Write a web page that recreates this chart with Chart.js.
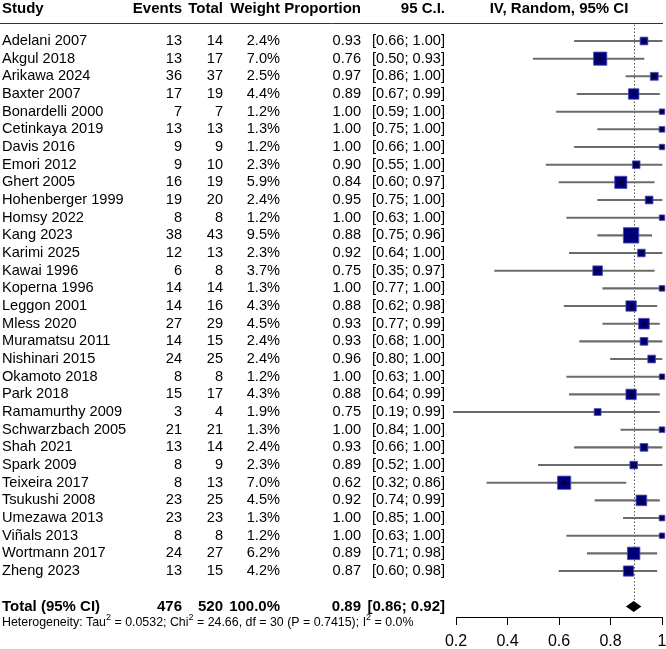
<!DOCTYPE html>
<html>
<head>
<meta charset="utf-8">
<script src="https://cdn.jsdelivr.net/npm/chart.js@4"></script>
<style>
  html, body { margin: 0; padding: 0; background: #fff; }
  #wrap { width: 666px; height: 649px; position: relative; }
</style>
</head>
<body>
<div id="wrap"><canvas id="forest"></canvas></div>
<script>
// study level data
const studies = ['Adelani 2007', 'Akgul 2018', 'Arikawa 2024', 'Baxter 2007', 'Bonardelli 2000',
  'Cetinkaya 2019', 'Davis 2016', 'Emori 2012', 'Ghert 2005', 'Hohenberger 1999', 'Homsy 2022',
  'Kang 2023', 'Karimi 2025', 'Kawai 1996', 'Koperna 1996', 'Leggon 2001', 'Mless 2020',
  'Muramatsu 2011', 'Nishinari 2015', 'Okamoto 2018', 'Park 2018', 'Ramamurthy 2009',
  'Schwarzbach 2005', 'Shah 2021', 'Spark 2009', 'Teixeira 2017', 'Tsukushi 2008',
  'Umezawa 2013', 'Viñals 2013', 'Wortmann 2017', 'Zheng 2023'];
const events = [13, 13, 36, 17, 7, 13, 9, 9, 16, 19, 8, 38, 12, 6, 14, 14, 27, 14, 24, 8, 15, 3, 21, 13, 8, 8, 23, 23, 8, 24, 13];
const totals = [14, 17, 37, 19, 7, 13, 9, 10, 19, 20, 8, 43, 13, 8, 14, 16, 29, 15, 25, 8, 17, 4, 21, 14, 9, 13, 25, 23, 8, 27, 15];
const weights = [2.4, 7.0, 2.5, 4.4, 1.2, 1.3, 1.2, 2.3, 5.9, 2.4, 1.2, 9.5, 2.3, 3.7, 1.3, 4.3, 4.5, 2.4, 2.4, 1.2, 4.3, 1.9, 1.3, 2.4, 2.3, 7.0, 4.5, 1.3, 1.2, 6.2, 4.2];
const props = [0.93, 0.76, 0.97, 0.89, 1.00, 1.00, 1.00, 0.90, 0.84, 0.95, 1.00, 0.88, 0.92, 0.75, 1.00, 0.88, 0.93, 0.93, 0.96, 1.00, 0.88, 0.75, 1.00, 0.93, 0.89, 0.62, 0.92, 1.00, 1.00, 0.89, 0.87];
const ciLow = [0.66, 0.50, 0.86, 0.67, 0.59, 0.75, 0.66, 0.55, 0.60, 0.75, 0.63, 0.75, 0.64, 0.35, 0.77, 0.62, 0.77, 0.68, 0.80, 0.63, 0.64, 0.19, 0.84, 0.66, 0.52, 0.32, 0.74, 0.85, 0.63, 0.71, 0.60];
const ciHigh = [1.00, 0.93, 1.00, 0.99, 1.00, 1.00, 1.00, 1.00, 0.97, 1.00, 1.00, 0.96, 1.00, 0.97, 1.00, 0.98, 0.99, 1.00, 1.00, 1.00, 0.99, 0.99, 1.00, 1.00, 1.00, 0.86, 0.99, 1.00, 1.00, 0.98, 0.98];

// pooled result
const totalEvents = 476;
const totalN = 520;
const pooled = [0.86, 0.89, 0.92]; // low, estimate, high
const hetParts = [['Heterogeneity: Tau', 0], ['2', 1], [' = 0.0532; Chi', 0], ['2', 1],
  [' = 24.66, df = 30 (P = 0.7415); I', 0], ['2', 1], [' = 0.0%', 0]];

const axisMin = 0.2, axisMax = 1, axisStep = 0.2;
const totalRow = studies.length + 1;

const FONT = '"Liberation Sans", Arial, sans-serif';
const cols = { events: 182, total: 223, weight: 280, prop: 361, ci: 445 };
const fmt = v => v.toFixed(2);

const tablePlugin = {
  id: 'table',
  beforeDatasetsDraw(chart) {
    const ctx = chart.ctx, y = chart.scales.y, x = chart.scales.x;
    ctx.save();
    // header rule
    const ry = Math.round(y.getPixelForValue(-1)) + 0.5;
    ctx.strokeStyle = '#333';
    ctx.lineWidth = 1;
    ctx.beginPath();
    ctx.moveTo(0, ry);
    ctx.lineTo(x.right + 1, ry);
    ctx.stroke();
    // pooled reference line
    const px = Math.round(x.getPixelForValue(pooled[1])) + 0.5;
    ctx.setLineDash([1.5, 2]);
    ctx.strokeStyle = '#555';
    ctx.beginPath();
    ctx.moveTo(px, ry + 1);
    ctx.lineTo(px, y.getPixelForValue(totalRow) - 5);
    ctx.stroke();
    ctx.restore();
  },
  afterDatasetsDraw(chart) {
    const ctx = chart.ctx, y = chart.scales.y, x = chart.scales.x;
    ctx.save();
    ctx.fillStyle = '#000';
    ctx.textBaseline = 'middle';
    const txt = (s, px, py, align) => { ctx.textAlign = align; ctx.fillText(s, px, py); };

    // header
    ctx.font = 'bold 15px ' + FONT;
    const hy = y.getPixelForValue(-1.8);
    txt('Study', 2, hy, 'left');
    txt('Events', cols.events, hy, 'right');
    txt('Total', cols.total, hy, 'right');
    txt('Weight', cols.weight, hy, 'right');
    txt('Proportion', cols.prop, hy, 'right');
    txt('95 C.I.', cols.ci, hy, 'right');
    txt('IV, Random, 95% CI', (x.left + x.right) / 2, hy, 'center');

    // rows
    ctx.font = '14.6px ' + FONT;
    studies.forEach((s, i) => {
      const ry = y.getPixelForValue(i);
      txt(s, 2, ry, 'left');
      txt(String(events[i]), cols.events, ry, 'right');
      txt(String(totals[i]), cols.total, ry, 'right');
      txt(weights[i].toFixed(1) + '%', cols.weight, ry, 'right');
      txt(fmt(props[i]), cols.prop, ry, 'right');
      txt('[' + fmt(ciLow[i]) + '; ' + fmt(ciHigh[i]) + ']', cols.ci, ry, 'right');
    });

    // total row
    ctx.font = 'bold 15px ' + FONT;
    const ty = y.getPixelForValue(totalRow);
    txt('Total (95% CI)', 2, ty, 'left');
    txt(String(totalEvents), cols.events, ty, 'right');
    txt(String(totalN), cols.total, ty, 'right');
    txt('100.0%', cols.weight, ty, 'right');
    txt(fmt(pooled[1]), cols.prop, ty, 'right');
    txt('[' + fmt(pooled[0]) + '; ' + fmt(pooled[2]) + ']', cols.ci, ty, 'right');

    // pooled diamond
    ctx.beginPath();
    ctx.moveTo(x.getPixelForValue(pooled[0]), ty);
    ctx.lineTo(x.getPixelForValue(pooled[1]), ty - 5.5);
    ctx.lineTo(x.getPixelForValue(pooled[2]), ty);
    ctx.lineTo(x.getPixelForValue(pooled[1]), ty + 5.5);
    ctx.closePath();
    ctx.fill();

    // heterogeneity line with superscripts
    const hety = y.getPixelForValue(totalRow + 0.92);
    let cx = 2;
    ctx.textAlign = 'left';
    hetParts.forEach(([s, sup]) => {
      ctx.font = (sup ? '9px ' : '12.4px ') + FONT;
      ctx.fillText(s, cx, sup ? hety - 5 : hety);
      cx += ctx.measureText(s).width;
    });
    ctx.restore();
  }
};

new Chart(document.getElementById('forest'), {
  type: 'scatter',
  data: {
    datasets: [
      {
        type: 'bar',
        indexAxis: 'y',
        data: studies.map((s, i) => ({ y: i, x: [ciLow[i], ciHigh[i]] })),
        backgroundColor: '#6b6b6b',
        borderWidth: 0,
        barThickness: 1.4,
        grouped: false,
        clip: false,
        order: 3
      },
      {
        data: studies.map((s, i) => ({ x: props[i], y: i })),
        pointStyle: 'rect',
        pointRadius: weights.map(w => 5 * Math.sqrt(w) / Math.SQRT2),
        pointHoverRadius: weights.map(w => 5 * Math.sqrt(w) / Math.SQRT2),
        backgroundColor: '#00007f',
        borderColor: '#4b4bb0',
        borderWidth: 0.8,
        clip: false,
        order: 2
      },
      {
        data: studies.map((s, i) => ({ x: props[i], y: i })),
        pointStyle: 'cross',
        pointRadius: 2.2,
        borderColor: '#000',
        borderWidth: 1,
        clip: false,
        order: 1
      }
    ]
  },
  options: {
    responsive: true,
    maintainAspectRatio: false,
    animation: false,
    events: [],
    layout: { autoPadding: false, padding: { left: 456, right: 4, top: 0, bottom: 0 } },
    plugins: { legend: { display: false }, tooltip: { enabled: false } },
    scales: {
      x: {
        type: 'linear',
        min: axisMin,
        max: axisMax,
        offset: false,
        afterFit: s => { s.height = 32; s.paddingLeft = 0; s.paddingRight = 0; },
        ticks: {
          stepSize: axisStep,
          color: '#000',
          padding: 7,
          font: { size: 16, family: FONT },
          maxRotation: 0,
          callback: v => String(+v.toFixed(1))
        },
        grid: { offset: false, drawOnChartArea: false, drawTicks: true, tickLength: 8, color: '#000' },
        border: { display: true, color: '#000', width: 1 }
      },
      y: {
        type: 'linear',
        display: false,
        reverse: true,
        offset: false,
        grid: { offset: false },
        min: -2.32,
        max: 32.6
      }
    }
  },
  plugins: [tablePlugin]
});
</script>
</body>
</html>
